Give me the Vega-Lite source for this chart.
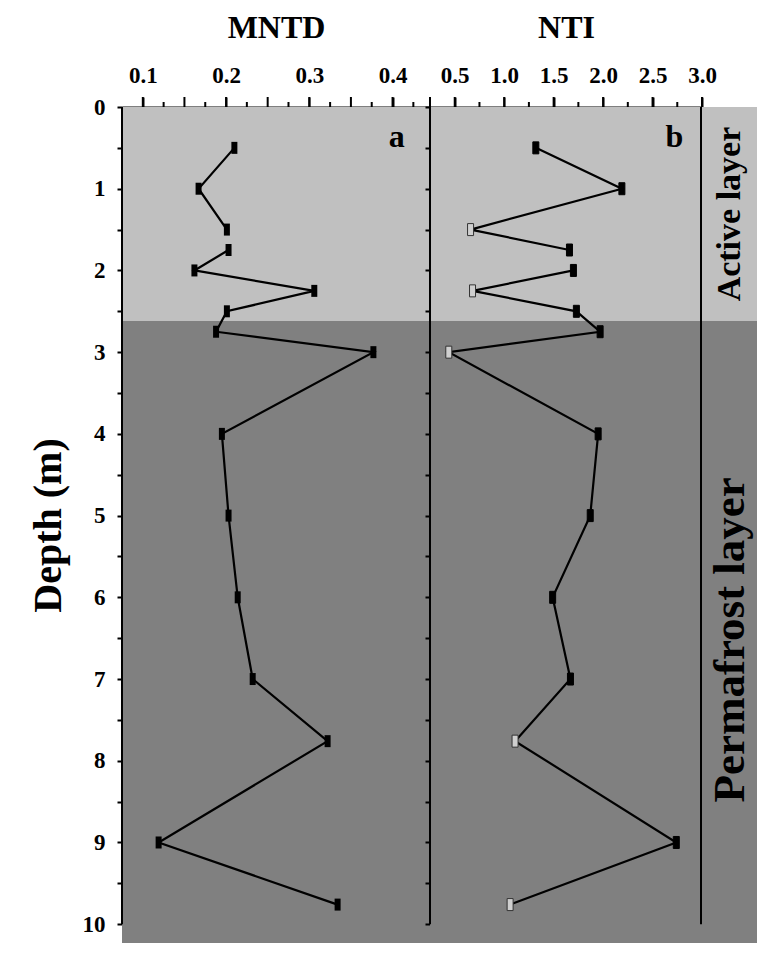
{
  "$schema": "https://vega.github.io/schema/vega-lite/v6.json",
  "background": "white",
  "padding": {"left": 28, "top": 11, "right": 0, "bottom": 0},
  "datasets": {
    "bands": [
      {"layer": "Active", "top": 0, "bottom": 2.62},
      {"layer": "Permafrost", "top": 2.62, "bottom": 10.23}
    ],
    "ticks_a": [
      {"v": 0.1, "kind": "major"}, {"v": 0.125, "kind": "minor"},
      {"v": 0.15, "kind": "major"}, {"v": 0.175, "kind": "minor"},
      {"v": 0.2, "kind": "major"}, {"v": 0.225, "kind": "minor"},
      {"v": 0.25, "kind": "major"}, {"v": 0.275, "kind": "minor"},
      {"v": 0.3, "kind": "major"}, {"v": 0.325, "kind": "minor"},
      {"v": 0.35, "kind": "major"}, {"v": 0.375, "kind": "minor"},
      {"v": 0.4, "kind": "major"}, {"v": 0.425, "kind": "minor"}
    ],
    "ticks_b": [
      {"v": 0.25, "kind": "major"},
      {"v": 0.5, "kind": "major"}, {"v": 0.75, "kind": "minor"},
      {"v": 1.0, "kind": "major"}, {"v": 1.25, "kind": "minor"},
      {"v": 1.5, "kind": "major"}, {"v": 1.75, "kind": "minor"},
      {"v": 2.0, "kind": "major"}, {"v": 2.25, "kind": "minor"},
      {"v": 2.5, "kind": "major"}, {"v": 2.75, "kind": "minor"},
      {"v": 3.0, "kind": "major"}
    ],
    "mntd": [
      {"depth": 0.5, "value": 0.210, "seg": 1},
      {"depth": 1.0, "value": 0.167, "seg": 1},
      {"depth": 1.5, "value": 0.201, "seg": 1},
      {"depth": 1.75, "value": 0.203, "seg": 2},
      {"depth": 2.0, "value": 0.162, "seg": 2},
      {"depth": 2.25, "value": 0.306, "seg": 2},
      {"depth": 2.5, "value": 0.201, "seg": 2},
      {"depth": 2.75, "value": 0.188, "seg": 2},
      {"depth": 3.0, "value": 0.377, "seg": 2},
      {"depth": 4.0, "value": 0.195, "seg": 2},
      {"depth": 5.0, "value": 0.203, "seg": 2},
      {"depth": 6.0, "value": 0.214, "seg": 2},
      {"depth": 7.0, "value": 0.232, "seg": 2},
      {"depth": 7.76, "value": 0.322, "seg": 2},
      {"depth": 9.0, "value": 0.119, "seg": 2},
      {"depth": 9.76, "value": 0.334, "seg": 2}
    ],
    "nti": [
      {"depth": 0.5, "value": 1.32, "seg": 1, "sig": "sig"},
      {"depth": 1.0, "value": 2.19, "seg": 1, "sig": "sig"},
      {"depth": 1.5, "value": 0.66, "seg": 1, "sig": "ns"},
      {"depth": 1.75, "value": 1.66, "seg": 1, "sig": "sig"},
      {"depth": 2.0, "value": 1.70, "seg": 2, "sig": "sig"},
      {"depth": 2.25, "value": 0.68, "seg": 2, "sig": "ns"},
      {"depth": 2.5, "value": 1.73, "seg": 2, "sig": "sig"},
      {"depth": 2.75, "value": 1.97, "seg": 2, "sig": "sig"},
      {"depth": 3.0, "value": 0.44, "seg": 2, "sig": "ns"},
      {"depth": 4.0, "value": 1.95, "seg": 2, "sig": "sig"},
      {"depth": 5.0, "value": 1.87, "seg": 2, "sig": "sig"},
      {"depth": 6.0, "value": 1.49, "seg": 2, "sig": "sig"},
      {"depth": 7.0, "value": 1.67, "seg": 2, "sig": "sig"},
      {"depth": 7.76, "value": 1.11, "seg": 2, "sig": "ns"},
      {"depth": 9.0, "value": 2.74, "seg": 2, "sig": "sig"},
      {"depth": 9.76, "value": 1.06, "seg": 2, "sig": "ns"}
    ]
  },
  "config": {
    "font": "Liberation Serif",
    "view": {"stroke": null},
    "axis": {
      "labelFont": "Liberation Serif",
      "labelFontWeight": "bold",
      "labelFontSize": 23,
      "labelColor": "black",
      "titleFont": "Liberation Serif",
      "titleFontWeight": "bold",
      "titleColor": "black",
      "ticks": true,
      "tickColor": "black",
      "tickOpacity": 1,
      "tickWidth": 2,
      "domainColor": "black",
      "domainWidth": 2,
      "grid": false,
      "labelFlush": false,
      "labelOverlap": false,
      "labelBound": false,
      "zindex": 1
    }
  },
  "hconcat": [
    {
      "width": 308,
      "height": 836,
      "layer": [
        {
          "data": {"name": "bands"},
          "mark": {"type": "rect"},
          "encoding": {
            "y": {
              "field": "top", "type": "quantitative",
              "scale": {"domain": [0, 10.23], "reverse": true, "nice": false, "zero": false},
              "axis": {
                "orient": "left",
                "title": "Depth (m)",
                "titleFontSize": 40,
                "titlePadding": 14,
                "values": [0,0.5,1,1.5,2,2.5,3,3.5,4,4.5,5,5.5,6,6.5,7,7.5,8,8.5,9,9.5,10],
                "labelExpr": "datum.value % 1 == 0 ? format(datum.value, 'd') : ''",
                "tickSize": 5,
                "labelPadding": 12,
                "domain": false
              }
            },
            "y2": {"field": "bottom"},
            "color": {
              "field": "layer", "type": "nominal",
              "scale": {"domain": ["Active", "Permafrost"], "range": ["#c0c0c0", "#808080"]},
              "legend": null
            }
          }
        },
        {
          "data": {"name": "mntd"},
          "mark": {"type": "line", "color": "black", "strokeWidth": 2.2},
          "encoding": {
            "x": {
              "field": "value", "type": "quantitative",
              "scale": {"domain": [0.075, 0.445], "nice": false, "zero": false},
              "axis": {
                "orient": "top",
                "title": "MNTD",
                "titleFontSize": 32,
                "titlePadding": 20,
                "values": [0.1, 0.2, 0.3, 0.4],
                "format": ".1f",
                "tickSize": 10,
                "labelPadding": 10
              }
            },
            "y": {"field": "depth", "type": "quantitative"},
            "detail": {"field": "seg"},
            "order": {"field": "depth"}
          }
        },
        {
          "data": {"name": "mntd"},
          "mark": {"type": "point", "shape": "M-0.5,-1H0.5V1H-0.5Z", "size": 144, "filled": true, "color": "black", "opacity": 1},
          "encoding": {
            "x": {"field": "value", "type": "quantitative"},
            "y": {"field": "depth", "type": "quantitative"}
          }
        },
        {
          "data": {"name": "ticks_a"},
          "transform": [{"filter": "datum.kind == 'major'"}],
          "mark": {"type": "rule", "color": "black", "strokeWidth": 2, "clip": false},
          "encoding": {
            "x": {"field": "v", "type": "quantitative"},
            "y": {"datum": 0},
            "y2": {"datum": -0.1224}
          }
        },
        {
          "data": {"name": "ticks_a"},
          "transform": [{"filter": "datum.kind == 'minor'"}],
          "mark": {"type": "rule", "color": "black", "strokeWidth": 2, "clip": false},
          "encoding": {
            "x": {"field": "v", "type": "quantitative"},
            "y": {"datum": 0},
            "y2": {"datum": -0.0612}
          }
        },
        {
          "data": {"values": [{}]},
          "mark": {"type": "rule", "color": "black", "strokeWidth": 2},
          "encoding": {
            "x": {"datum": 0.075},
            "y": {"datum": 0},
            "y2": {"datum": 10}
          }
        },
        {
          "data": {"values": [{}]},
          "mark": {"type": "text", "fontSize": 32, "fontWeight": "bold", "font": "Liberation Serif", "align": "center", "baseline": "alphabetic", "color": "black"},
          "encoding": {
            "x": {"datum": 0.405},
            "y": {"datum": 0.49},
            "text": {"value": "a"}
          }
        }
      ]
    },
    {
      "width": 272,
      "height": 836,
      "layer": [
        {
          "data": {"name": "bands"},
          "mark": {"type": "rect"},
          "encoding": {
            "y": {
              "field": "top", "type": "quantitative",
              "scale": {"domain": [0, 10.23], "reverse": true, "nice": false, "zero": false},
              "axis": {
                "orient": "left",
                "title": null,
                "labels": false,
                "values": [0,0.5,1,1.5,2,2.5,3,3.5,4,4.5,5,5.5,6,6.5,7,7.5,8,8.5,9,9.5,10],
                "tickSize": 5,
                "domain": false
              }
            },
            "y2": {"field": "bottom"},
            "color": {
              "field": "layer", "type": "nominal",
              "scale": {"domain": ["Active", "Permafrost"], "range": ["#c0c0c0", "#808080"]},
              "legend": null
            }
          }
        },
        {
          "data": {"name": "nti"},
          "mark": {"type": "line", "color": "black", "strokeWidth": 2.2},
          "encoding": {
            "x": {
              "field": "value", "type": "quantitative",
              "scale": {"domain": [0.25, 3.0], "nice": false, "zero": false},
              "axis": {
                "orient": "top",
                "title": "NTI",
                "titleFontSize": 32,
                "titlePadding": 20,
                "values": [0.5, 1.0, 1.5, 2.0, 2.5, 3.0],
                "format": ".1f",
                "tickSize": 10,
                "labelPadding": 10
              }
            },
            "y": {"field": "depth", "type": "quantitative"},
            "detail": {"field": "seg"},
            "order": {"field": "depth"}
          }
        },
        {
          "data": {"name": "nti"},
          "mark": {"type": "point", "shape": "M-0.5,-1H0.5V1H-0.5Z", "size": 144, "opacity": 1, "strokeWidth": 1},
          "encoding": {
            "x": {"field": "value", "type": "quantitative"},
            "y": {"field": "depth", "type": "quantitative"},
            "fill": {
              "field": "sig", "type": "nominal",
              "scale": {"domain": ["sig", "ns"], "range": ["black", "#cfcfcf"]},
              "legend": null
            },
            "stroke": {
              "field": "sig", "type": "nominal",
              "scale": {"domain": ["sig", "ns"], "range": ["black", "#333333"]},
              "legend": null
            }
          }
        },
        {
          "data": {"name": "ticks_b"},
          "transform": [{"filter": "datum.kind == 'major'"}],
          "mark": {"type": "rule", "color": "black", "strokeWidth": 2, "clip": false},
          "encoding": {
            "x": {"field": "v", "type": "quantitative"},
            "y": {"datum": 0},
            "y2": {"datum": -0.1224}
          }
        },
        {
          "data": {"name": "ticks_b"},
          "transform": [{"filter": "datum.kind == 'minor'"}],
          "mark": {"type": "rule", "color": "black", "strokeWidth": 2, "clip": false},
          "encoding": {
            "x": {"field": "v", "type": "quantitative"},
            "y": {"datum": 0},
            "y2": {"datum": -0.0612}
          }
        },
        {
          "data": {"values": [{}]},
          "mark": {"type": "rule", "color": "black", "strokeWidth": 2},
          "encoding": {
            "x": {"datum": 0.25},
            "y": {"datum": 0},
            "y2": {"datum": 10}
          }
        },
        {
          "data": {"values": [{}]},
          "mark": {"type": "rule", "color": "black", "strokeWidth": 4},
          "encoding": {
            "x": {"datum": 3.0},
            "y": {"datum": 0},
            "y2": {"datum": 10}
          }
        },
        {
          "data": {"values": [{}]},
          "mark": {"type": "text", "fontSize": 32, "fontWeight": "bold", "font": "Liberation Serif", "align": "center", "baseline": "alphabetic", "color": "black"},
          "encoding": {
            "x": {"datum": 2.72},
            "y": {"datum": 0.49},
            "text": {"value": "b"}
          }
        }
      ]
    },
    {
      "width": 55,
      "height": 836,
      "layer": [
        {
          "data": {"name": "bands"},
          "mark": {"type": "rect"},
          "encoding": {
            "y": {
              "field": "top", "type": "quantitative",
              "scale": {"domain": [0, 10.23], "reverse": true, "nice": false, "zero": false},
              "axis": null
            },
            "y2": {"field": "bottom"},
            "color": {
              "field": "layer", "type": "nominal",
              "scale": {"domain": ["Active", "Permafrost"], "range": ["#c0c0c0", "#808080"]},
              "legend": null
            }
          }
        },
        {
          "data": {"values": [{}]},
          "mark": {"type": "text", "fontSize": 34, "fontWeight": "bold", "font": "Liberation Serif", "angle": 270, "align": "center", "baseline": "middle", "color": "black"},
          "encoding": {
            "y": {"datum": 1.31},
            "text": {"value": "Active layer"}
          }
        },
        {
          "data": {"values": [{}]},
          "mark": {"type": "text", "fontSize": 45, "fontWeight": "bold", "font": "Liberation Serif", "angle": 270, "align": "center", "baseline": "middle", "color": "black"},
          "encoding": {
            "y": {"datum": 6.52},
            "text": {"value": "Permafrost layer"}
          }
        }
      ]
    }
  ],
  "spacing": 0,
  "bounds": "flush",
  "resolve": {"scale": {"x": "independent", "y": "independent", "color": "shared"}}
}
